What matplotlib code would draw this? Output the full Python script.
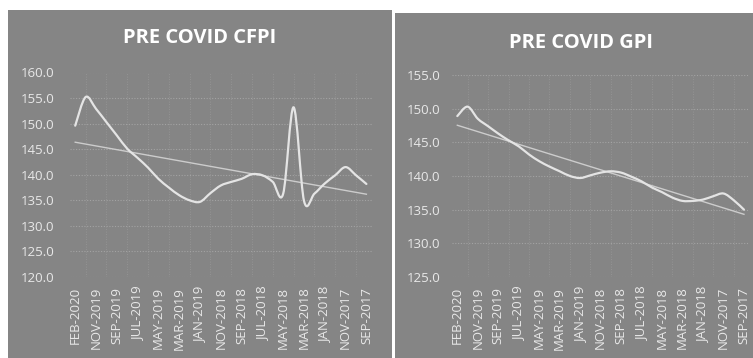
import numpy as np
import matplotlib
matplotlib.use("Agg")
import matplotlib.pyplot as plt
from matplotlib.path import Path
from matplotlib.patches import PathPatch, Rectangle

# Monthly index readings, newest first (FEB-2020 back to SEP-2017)
months = [
    "FEB-2020", "DEC-2019", "NOV-2019", "OCT-2019", "SEP-2019", "AUG-2019",
    "JUL-2019", "JUN-2019", "MAY-2019", "APR-2019", "MAR-2019", "FEB-2019",
    "JAN-2019", "DEC-2018", "NOV-2018", "OCT-2018", "SEP-2018", "AUG-2018",
    "JUL-2018", "JUN-2018", "MAY-2018", "APR-2018", "MAR-2018", "FEB-2018",
    "JAN-2018", "DEC-2017", "NOV-2017", "OCT-2017", "SEP-2017",
]

cfpi = [149.6, 155.2, 152.9, 150.3, 147.7, 145.1, 143.3, 141.4, 139.2, 137.5,
        136.0, 135.0, 134.7, 136.4, 137.9, 138.6, 139.2, 140.1, 139.9, 138.6,
        136.3, 153.2, 134.9, 136.3, 138.3, 139.9, 141.5, 139.9, 138.2]

gpi = [148.9, 150.3, 148.5, 147.4, 146.3, 145.3, 144.4, 143.2, 142.2, 141.4,
       140.7, 140.0, 139.7, 140.1, 140.5, 140.7, 140.5, 139.9, 139.2, 138.3,
       137.6, 136.8, 136.3, 136.3, 136.5, 137.0, 137.4, 136.4, 135.0]

cfpi_ticks = [120, 125, 130, 135, 140, 145, 150, 155, 160]
gpi_ticks = [125, 130, 135, 140, 145, 150, 155]

PANEL = "#858585"
TEXT = "#e8e8e8"
LINE = "#e4e4e4"
TREND = "#cccccc"
GRID = "#b0b0b0"


def smooth_path(x, y):
    """Cardinal-spline (Excel-style smoothed line) as cubic Bezier segments."""
    pts = np.column_stack([x, y]).astype(float)
    n = len(pts)
    verts = [pts[0]]
    codes = [Path.MOVETO]
    for i in range(n - 1):
        p0 = pts[i - 1] if i > 0 else pts[i]
        p1 = pts[i]
        p2 = pts[i + 1]
        p3 = pts[i + 2] if i + 2 < n else pts[i + 1]
        c1 = p1 + (p2 - p0) / 6.0
        c2 = p2 - (p3 - p1) / 6.0
        verts += [c1, c2, p2]
        codes += [Path.CURVE4] * 3
    return Path(verts, codes)


W, H = 753, 358
fig = plt.figure(figsize=(W / 100, H / 100), dpi=100)
fig.patch.set_facecolor("white")

# Panel backgrounds, kept behind the axes
fig.patches.append(Rectangle((8 / W, 0), (392 - 8) / W, (H - 10) / H,
                             transform=fig.transFigure, facecolor=PANEL,
                             edgecolor="none", zorder=-5))
fig.patches.append(Rectangle((395 / W, 0), (W - 395) / W, (H - 13) / H,
                             transform=fig.transFigure, facecolor=PANEL,
                             edgecolor="none", zorder=-5))


def draw_panel(rect, values, ticks, title, title_xy, ypad):
    ax = fig.add_axes(rect)
    ax.set_facecolor("none")
    x = np.arange(len(values))
    y = np.asarray(values, dtype=float)

    ax.add_patch(PathPatch(smooth_path(x, y), facecolor="none",
                           edgecolor=LINE, lw=1.6, zorder=3,
                           capstyle="round", joinstyle="round"))

    slope, icpt = np.polyfit(x, y, 1)
    ax.plot(x, slope * x + icpt, color=TREND, lw=1.0, zorder=2)

    ax.set_xlim(-0.5, len(values) - 0.5)
    ax.set_ylim(ticks[0], ticks[-1])
    ax.set_yticks(ticks)
    ax.set_yticklabels([f"{t:.1f}" for t in ticks])
    ax.set_xticks(x[::2])
    ax.set_xticklabels(months[::2], rotation=90)
    ax.tick_params(axis="both", length=0, colors=TEXT, labelsize=9.5)
    ax.tick_params(axis="y", pad=ypad)
    ax.tick_params(axis="x", pad=7)
    for lab in ax.get_xticklabels() + ax.get_yticklabels():
        lab.set_family(["Open Sans", "DejaVu Sans"])

    ax.set_xticks(x, minor=True)
    ax.tick_params(axis="x", which="minor", length=0)
    ax.grid(True, axis="y", which="major", color=GRID, lw=0.8,
            linestyle=(0, (1, 1.5)), alpha=0.7)
    ax.grid(True, axis="x", which="minor", color=GRID, lw=0.6,
            linestyle=(0, (1, 2)), alpha=0.45)
    for s in ax.spines.values():
        s.set_visible(False)

    fig.text(title_xy[0] / W, 1 - title_xy[1] / H, title, color="white",
             fontsize=14.5, fontweight="bold",
             family=["Open Sans", "DejaVu Sans"],
             ha="center", va="center")
    return ax


draw_panel([70 / W, 1 - 277 / H, (371.6 - 70) / W, (277 - 72.5) / H],
           cfpi, cfpi_ticks, "PRE COVID CFPI", (200, 38), 11)
draw_panel([452.2 / W, 1 - 277 / H, (749.1 - 452.2) / W, (277 - 75) / H],
           gpi, gpi_ticks, "PRE COVID GPI", (581, 43), 8.5)

fig.savefig("out.png", dpi=100, facecolor=fig.get_facecolor())
